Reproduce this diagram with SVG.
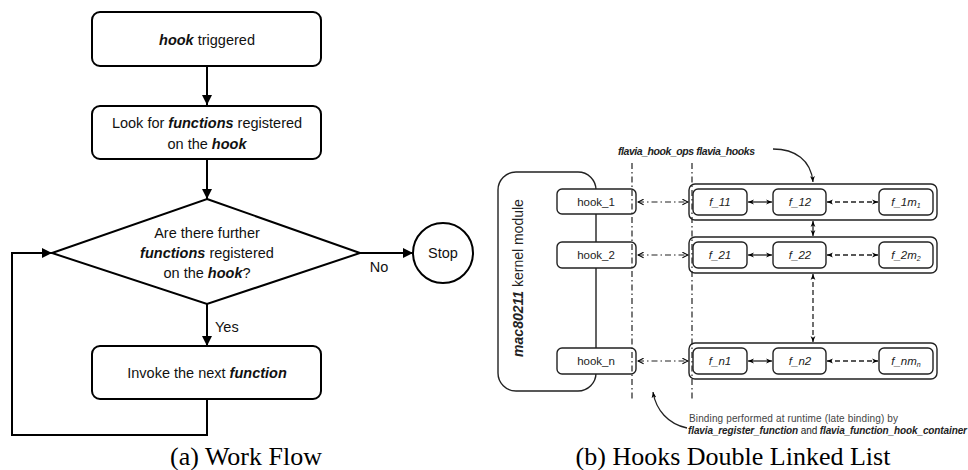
<svg xmlns="http://www.w3.org/2000/svg" width="968" height="470" viewBox="0 0 968 470">
  <defs>
    <marker id="tri" viewBox="0 0 10 10" refX="10" refY="5" markerWidth="10" markerHeight="10" markerUnits="userSpaceOnUse" orient="auto">
      <path d="M0,0 L10,5 L0,10 Z" fill="#000"/>
    </marker>
    <marker id="sm" viewBox="0 0 10 10" refX="10" refY="5" markerWidth="6" markerHeight="6" markerUnits="userSpaceOnUse" orient="auto-start-reverse">
      <path d="M0,1 L10,5 L0,9 L3,5 Z" fill="#000"/>
    </marker>
    <marker id="open" viewBox="0 0 10 10" refX="9" refY="5" markerWidth="7" markerHeight="7" markerUnits="userSpaceOnUse" orient="auto-start-reverse">
      <path d="M1,1 L9,5 L1,9" fill="none" stroke="#000" stroke-width="1.5"/>
    </marker>
  </defs>
  <style>
    .fc { fill: #fff; stroke: #000; stroke-width: 2; }
    .ln { fill: none; stroke: #000; stroke-width: 2; }
    .t { font-family: "Liberation Sans", Arial, sans-serif; font-size: 14.5px; fill: #111; text-anchor: middle; }
    .bi { font-weight: bold; font-style: italic; }
    .bx { fill: #fff; stroke: #222; stroke-width: 1.4; }
    .frame { fill: none; stroke: #222; stroke-width: 1.4; }
    .thin { fill: none; stroke: #222; stroke-width: 1.3; }
    .dd { fill: none; stroke: #222; stroke-width: 1.2; stroke-dasharray: 6 3 1.5 3; }
    .ds { fill: none; stroke: #222; stroke-width: 1.3; stroke-dasharray: 5 3; }
    .s { font-family: "Liberation Sans", Arial, sans-serif; font-size: 11.5px; fill: #222; text-anchor: middle; }
    .fi { font-style: italic; }
    .cap { font-family: "Liberation Serif", "Times New Roman", serif; font-size: 26px; fill: #000; text-anchor: middle; }
  </style>

  <!-- (a) work flow -->
  <g id="connectors-a">
    <line class="ln" x1="207" y1="66" x2="207" y2="105" marker-end="url(#tri)"/>
    <line class="ln" x1="207" y1="159" x2="207" y2="199" marker-end="url(#tri)"/>
    <line class="ln" x1="360" y1="253" x2="413" y2="253" marker-end="url(#tri)"/>
    <line class="ln" x1="207" y1="304" x2="207" y2="346" marker-end="url(#tri)"/>
    <path class="ln" d="M207,399 V435 H12 V253 H52" marker-end="url(#tri)"/>
    <text class="t" x="379" y="272">No</text>
    <text class="t" x="215" y="332" style="text-anchor:start">Yes</text>
  </g>
  <g id="start">
    <rect class="fc" x="92" y="12" width="229" height="54" rx="8"/>
    <text class="t" x="207" y="45"><tspan class="bi">hook</tspan> triggered</text>
  </g>
  <g id="lookup">
    <rect class="fc" x="92" y="106" width="229" height="53" rx="8"/>
    <text class="t" x="207" y="128">Look for <tspan class="bi">functions</tspan> registered</text>
    <text class="t" x="207" y="149">on the <tspan class="bi">hook</tspan></text>
  </g>
  <g id="decision">
    <polygon class="fc" points="207,199 360,253 207,304 52,253"/>
    <text class="t" x="207" y="238">Are there further</text>
    <text class="t" x="207" y="258"><tspan class="bi">functions</tspan> registered</text>
    <text class="t" x="207" y="278">on the <tspan class="bi">hook</tspan>?</text>
  </g>
  <g id="stop">
    <circle class="fc" cx="443" cy="253" r="30"/>
    <text class="t" x="443" y="258">Stop</text>
  </g>
  <g id="invoke">
    <rect class="fc" x="92" y="346" width="229" height="53" rx="8"/>
    <text class="t" x="207" y="378">Invoke the next <tspan class="bi">function</tspan></text>
  </g>
  <text class="cap" x="246" y="465">(a) Work Flow</text>

  <!-- (b) hooks double linked list -->
  <g id="kernel">
    <rect class="frame" x="498" y="172" width="98" height="219" rx="18"/>
    <text class="s" transform="translate(523,278) rotate(-90)" style="font-size:14px"><tspan class="bi">mac80211</tspan> kernel module</text>
  </g>

  <g id="row-frames">
    <rect class="frame" x="689" y="184" width="248" height="36" rx="6"/>
    <rect class="frame" x="689" y="237" width="248" height="36" rx="6"/>
    <rect class="frame" x="689" y="343" width="248" height="36" rx="6"/>
  </g>

  <g id="connectors-b">
    <line class="dd" x1="638" y1="202" x2="688" y2="202" marker-start="url(#open)" marker-end="url(#open)"/>
    <line class="dd" x1="638" y1="255" x2="688" y2="255" marker-start="url(#open)" marker-end="url(#open)"/>
    <line class="dd" x1="638" y1="361" x2="688" y2="361" marker-start="url(#open)" marker-end="url(#open)"/>
    <line class="thin" x1="748" y1="202" x2="772" y2="202" marker-start="url(#sm)" marker-end="url(#sm)"/>
    <line class="thin" x1="748" y1="255" x2="772" y2="255" marker-start="url(#sm)" marker-end="url(#sm)"/>
    <line class="thin" x1="748" y1="361" x2="772" y2="361" marker-start="url(#sm)" marker-end="url(#sm)"/>
    <line class="ds" x1="827" y1="202" x2="878" y2="202" marker-start="url(#sm)" marker-end="url(#sm)"/>
    <line class="ds" x1="827" y1="255" x2="878" y2="255" marker-start="url(#sm)" marker-end="url(#sm)"/>
    <line class="ds" x1="827" y1="361" x2="878" y2="361" marker-start="url(#sm)" marker-end="url(#sm)"/>
    <line class="thin" x1="813" y1="221" x2="813" y2="236" marker-start="url(#sm)" marker-end="url(#sm)"/>
    <line class="ds" x1="813" y1="274" x2="813" y2="342" marker-start="url(#sm)" marker-end="url(#sm)"/>
    <path class="thin" d="M773,149 C795,149 811,160 813,182" marker-end="url(#sm)"/>
    <path class="thin" d="M687,428 C668,424 656,410 653,392" marker-end="url(#sm)"/>
  </g>

  <g id="hook_1">
    <rect class="bx" x="557" y="189" width="79" height="25" rx="5"/>
    <text class="s" x="596" y="206">hook_1</text>
  </g>
  <g id="hook_2">
    <rect class="bx" x="557" y="242" width="79" height="26" rx="5"/>
    <text class="s" x="596" y="259">hook_2</text>
  </g>
  <g id="hook_n">
    <rect class="bx" x="557" y="348" width="79" height="26" rx="5"/>
    <text class="s" x="596" y="365">hook_n</text>
  </g>

  <g id="f_11"><rect class="bx" x="693" y="189" width="54" height="26" rx="5"/><text class="s fi" x="720" y="206">f_11</text></g>
  <g id="f_12"><rect class="bx" x="773" y="189" width="53" height="26" rx="5"/><text class="s fi" x="800" y="206">f_12</text></g>
  <g id="f_1m1"><rect class="bx" x="879" y="189" width="54" height="26" rx="5"/><text class="s fi" x="906" y="206">f_1m<tspan font-size="7" dy="2">1</tspan></text></g>
  <g id="f_21"><rect class="bx" x="693" y="242" width="54" height="26" rx="5"/><text class="s fi" x="720" y="259">f_21</text></g>
  <g id="f_22"><rect class="bx" x="773" y="242" width="53" height="26" rx="5"/><text class="s fi" x="800" y="259">f_22</text></g>
  <g id="f_2m2"><rect class="bx" x="879" y="242" width="54" height="26" rx="5"/><text class="s fi" x="906" y="259">f_2m<tspan font-size="7" dy="2">2</tspan></text></g>
  <g id="f_n1"><rect class="bx" x="693" y="348" width="54" height="26" rx="5"/><text class="s fi" x="720" y="365">f_n1</text></g>
  <g id="f_n2"><rect class="bx" x="773" y="348" width="53" height="26" rx="5"/><text class="s fi" x="800" y="365">f_n2</text></g>
  <g id="f_nmn"><rect class="bx" x="879" y="348" width="54" height="26" rx="5"/><text class="s fi" x="906" y="365">f_nm<tspan font-size="7" dy="2">n</tspan></text></g>

  <!-- boundary guides, drawn over the boxes they cross -->
  <g id="guides">
    <line class="dd" x1="632" y1="163" x2="632" y2="400"/>
    <line class="dd" x1="692" y1="163" x2="692" y2="400"/>
  </g>

  <text class="s bi" x="618" y="155" style="text-anchor:start;font-size:10.5px" textLength="137">flavia_hook_ops flavia_hooks</text>
  <text class="s" x="689" y="422" style="text-anchor:start;font-size:10px;fill:#444" textLength="209">Binding performed at runtime (late binding) by</text>
  <text class="s" x="688" y="434" style="text-anchor:start;font-size:10px" textLength="279"><tspan class="bi">flavia_register_function</tspan> and <tspan class="bi">flavia_function_hook_container</tspan></text>

  <text class="cap" x="733" y="465">(b) Hooks Double Linked List</text>
</svg>
